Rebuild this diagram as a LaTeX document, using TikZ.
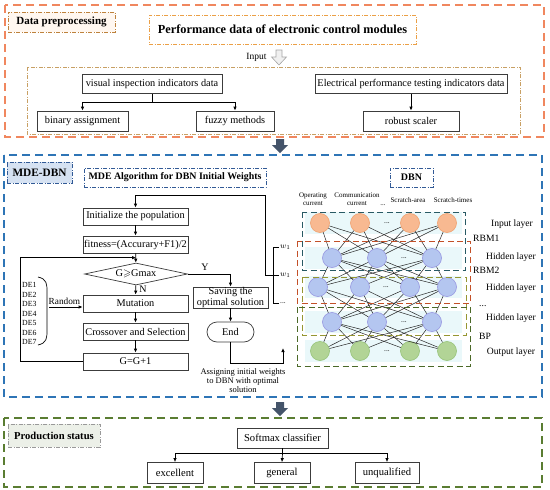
\documentclass[tikz,border=0pt]{standalone}
\usepackage{fontspec}
\usepackage{amssymb}
\setmainfont{Liberation Serif}
\usetikzlibrary{shapes.geometric,arrows.meta}

\definecolor{prepOrange}{RGB}{240,135,95}
\definecolor{prepTag}{RGB}{190,130,60}
\definecolor{prepTitle}{RGB}{235,160,70}
\definecolor{prepInner}{RGB}{200,160,100}
\definecolor{mdeBlue}{RGB}{46,117,182}
\definecolor{mdeTag}{RGB}{50,90,150}
\definecolor{mdeFill}{RGB}{214,226,242}
\definecolor{prodGreen}{RGB}{90,125,50}
\definecolor{prodFill}{RGB}{236,240,232}
\definecolor{boxGray}{RGB}{60,60,60}
\definecolor{blockArrow}{RGB}{68,84,106}
\definecolor{inFill}{RGB}{248,185,145}
\definecolor{inLine}{RGB}{240,160,110}
\definecolor{hidFill}{RGB}{180,198,240}
\definecolor{hidLine}{RGB}{150,150,225}
\definecolor{outFill}{RGB}{178,212,150}
\definecolor{outLine}{RGB}{150,195,120}
\definecolor{bandFill}{RGB}{234,248,250}
\definecolor{rbmTeal}{RGB}{40,90,100}
\definecolor{rbmRed}{RGB}{195,80,40}
\definecolor{rbmOlive}{RGB}{150,150,50}
\definecolor{rbmGreen}{RGB}{75,105,40}

\begin{document}
\begin{tikzpicture}
    [x=1pt,y=-1pt,
    box/.style={draw=boxGray,line width=0.7pt,fill=white,inner sep=0.5pt,
        font=\fontsize{10.3}{10.5}\selectfont,align=center},
    flow/.style={box,minimum width=105pt,minimum height=17pt},
    tag/.style={line width=0.8pt,dash pattern=on 4pt off 1.5pt on 1pt off 1.5pt,
        inner sep=1pt,font=\fontsize{11}{12}\selectfont\bfseries},
    frame/.style={line width=1.2pt,dash pattern=on 8pt off 5pt},
    rbm/.style={line width=1pt,dash pattern=on 6pt off 3.5pt},
    arr/.style={-{Latex[length=4pt,width=3.5pt]},line width=0.8pt,draw=black},
    unit/.style={circle,minimum size=19pt,inner sep=0pt,line width=0.6pt},
    inunit/.style={unit,fill=inFill,draw=inLine},
    hidunit/.style={unit,fill=hidFill,draw=hidLine},
    outunit/.style={unit,fill=outFill,draw=outLine},
    link/.style={line width=0.5pt,black!85},
    dots/.style={font=\fontsize{7.5}{8}\selectfont},
    small/.style={font=\fontsize{7}{7.5}\selectfont,align=center,inner sep=0pt},
    side/.style={font=\fontsize{9.6}{10}\selectfont,inner sep=0pt}]

    \useasboundingbox (0,0) rectangle (550,490);

    % data preprocessing
    \draw[frame,prepOrange] (5,5) rectangle (544,137);
    \node[tag,draw=prepTag,fill=orange!6,minimum width=107pt,minimum height=20pt] (prep) at (61.5,22) {Data preprocessing};
    \node[tag,draw=prepTitle,fill=white,minimum width=267pt,minimum height=29pt,font=\fontsize{12.3}{13}\selectfont\bfseries] (perf) at (282.5,29.5) {Performance data of electronic control modules};
    \draw[line width=0.6pt,gray!70,fill=gray!12] (276,50) -- (282,50) -- (282,57) -- (286.5,57) -- (279,65) -- (271.5,57) -- (276,57) -- cycle;
    \node[font=\fontsize{9.5}{10}\selectfont,anchor=east] (inp) at (270,57) {Input};
    \draw[prepInner,line width=0.8pt,dash pattern=on 4pt off 1.5pt on 1pt off 1.5pt] (27,67) rectangle (520,134);
    \node[box,minimum width=140pt,minimum height=19pt] (vis) at (152,84) {visual inspection indicators data};
    \node[box,minimum width=192pt,minimum height=19pt] (elec) at (411,84) {Electrical performance testing indicators data};
    \node[box,minimum width=91pt,minimum height=20pt] (bin) at (82.5,121) {binary assignment};
    \node[box,minimum width=78pt,minimum height=20pt] (fuz) at (235,121) {fuzzy methods};
    \node[box,minimum width=96pt,minimum height=20pt] (rob) at (411,121) {robust scaler};
    \draw[line width=0.8pt] (vis.south) -- ([yshift=-9pt]vis.south);
    \draw[arr] ([yshift=-9pt]vis.south) -| (bin.north);
    \draw[arr] ([yshift=-9pt]vis.south) -| (fuz.north);
    \draw[arr] (elec) -- (rob);

    \draw[fill=blockArrow,draw=none] (276,139) -- (284,139) -- (284,145) -- (288,145) -- (280,153) -- (272,145) -- (276,145) -- cycle;

    % MDE-DBN
    \draw[frame,mdeBlue] (4,155) rectangle (542,397);
    \node[tag,draw=mdeTag,fill=mdeFill,minimum width=65pt,minimum height=21pt,font=\fontsize{11.3}{12}\selectfont\bfseries] (mdedbn) at (39.5,172.5) {MDE-DBN};
    \node[tag,draw=mdeTag,minimum width=182pt,minimum height=19pt,font=\fontsize{9.9}{10}\selectfont\bfseries] (mdealg) at (175,177.5) {MDE Algorithm for DBN Initial Weights};
    \node[tag,draw=mdeTag,minimum width=43pt,minimum height=19pt,font=\fontsize{10}{10}\selectfont\bfseries] (dbn) at (411.5,177.5) {DBN};

    \node[flow] (init) at (135.5,216.5) {Initialize the population};
    \node[flow] (fit) at (135.5,244.5) {fitness=(Accurary+F1)/2};
    \node[draw=boxGray,line width=0.7pt,fill=white,diamond,aspect=4.7,inner sep=0pt,
        minimum width=103pt,minimum height=22pt,font=\fontsize{10.3}{10.5}\selectfont] (dia) at (136,274) {G$\geqslant$Gmax};
    \node[flow] (mut) at (135.5,303.5) {Mutation};
    \node[flow] (cross) at (135.5,331.5) {Crossover and Selection};
    \node[flow] (gplus) at (135.5,361.5) {G=G+1};
    \node[box,minimum width=75pt,minimum height=21pt,font=\fontsize{10.3}{10.5}\selectfont] (save) at (230.5,297.5) {Saving the\\optimal solution};
    \node[box,rounded corners=10pt,minimum width=47pt,minimum height=20pt] (end) at (230.5,332) {End};

    \draw[arr] (init) -- (fit);
    \draw[arr] (fit) -- (dia);
    \draw[arr] (dia) -- (mut) node[pos=0.45,right,font=\fontsize{10}{10}\selectfont] {N};
    \draw[arr] (mut) -- (cross);
    \draw[arr] (cross) -- (gplus);
    \draw[arr] (gplus.west) -- ++(-62,0) |- ([yshift=5pt]dia.north);
    \draw[arr] (dia.east) -| (save.north) node[pos=0.2,above,font=\fontsize{10}{10}\selectfont] {Y};
    \draw[arr] (save) -- (end);

    \node[anchor=west,inner sep=0pt,align=left,font=\fontsize{7.8}{9.5}\selectfont] (delist) at (22,313.5) {DE1\\DE2\\DE3\\DE4\\DE5\\DE6\\DE7};
    \draw[line width=0.7pt] (38,277) .. controls (47,279) and (47,284) .. (47,292) -- (47,330) .. controls (47,338) and (47,343) .. (38,345);
    \coordinate (rnd) at (49,307);
    \node[font=\fontsize{9.3}{10}\selectfont,anchor=south west,inner sep=0.5pt] (rndlbl) at (48,305) {Random};
    \draw[arr] (rnd) -- (rnd -| mut.west);

    \coordinate (asg) at (283,348);
    \draw[arr] (end.south) |- ([yshift=-15pt]asg) -- (asg);
    \node[font=\fontsize{8.5}{9.3}\selectfont,align=center] (asglbl) at (243,380.5) {Assigning initial weights\\to DBN with optimal\\solution};

    \coordinate (wone) at (279,247);
    \coordinate (wtwo) at (279,275);
    \coordinate (wdots) at (279,303);
    \draw[line width=0.8pt] (wone) -- ++(-6,0) |- (wdots);
    \draw[arr] (wtwo) -- ++(-14,0) |- ([yshift=12pt]init.north) -- (init.north);
    \node[font=\fontsize{8}{8}\selectfont,anchor=west,inner sep=1pt] (wonelbl) at (wone) {$w_1$};
    \node[font=\fontsize{8}{8}\selectfont,anchor=west,inner sep=1pt] (wtwolbl) at (wtwo) {$w_1$};
    \node[dots,anchor=west,inner sep=1pt] (wdotslbl) at (wdots) {...};

    % DBN
    \foreach \y in {223,258,287,322,351}
        \fill[bandFill] (305,\y-11) rectangle (462,\y+11);
    \node[small] (hop) at (313,199) {Operating\\current};
    \node[small] (hcom) at (357,199) {Communication\\current};
    \node[small] (hdots) at (383,205) {...};
    \node[small] (harea) at (408,200) {Scratch-area};
    \node[small] (htime) at (453,200) {Scratch-times};

    \foreach \n/\x in {1/320,2/360,3/410,4/447}
        \node[inunit] (in\n) at (\x,223) {};
    \foreach \n/\x in {1/332,2/377,3/432}
        \node[hidunit] (hA\n) at (\x,258) {};
    \foreach \n/\x in {1/318,2/360,3/410,4/447}
        \node[hidunit] (hB\n) at (\x,287) {};
    \foreach \n/\x in {1/332,2/377,3/432}
        \node[hidunit] (hC\n) at (\x,322) {};
    \foreach \n/\x in {1/320,2/360,3/410,4/447}
        \node[outunit] (out\n) at (\x,351) {};
    \foreach \x/\y [count=\k] in {387/223,404/258,386/287,404/322,387/351}
        \node[dots] (dd\k) at (\x,\y) {...};

    \foreach \a in {1,...,4}
        \foreach \b in {1,...,3} {
            \draw[link] (in\a) -- (hA\b);
            \draw[link] (hB\a) -- (hA\b);
            \draw[link] (hB\a) -- (hC\b);
            \draw[link] (out\a) -- (hC\b);
        }

    \draw[rbm,rbmTeal] (302,212) rectangle (465,270);
    \draw[rbm,rbmRed] (297,241) rectangle (470,303);
    \draw[rbm,rbmOlive] (302,277) rectangle (466,335);
    \draw[rbm,rbmGreen] (297,307) rectangle (470,366);

    \node[side] (linput) at (512,224) {Input layer};
    \node[side,anchor=west] (lrbma) at (473,238) {RBM1};
    \node[side] (lhida) at (511,257) {Hidden layer};
    \node[side,anchor=west] (lrbmb) at (473,270) {RBM2};
    \node[side] (lhidb) at (511,288) {Hidden layer};
    \node[side,anchor=west] (ldots) at (479,306) {...};
    \node[side] (lhidc) at (511,318) {Hidden layer};
    \node[side,anchor=west] (lbp) at (479,336) {BP};
    \node[side] (loutput) at (511,352) {Output layer};

    \draw[fill=blockArrow,draw=none] (276,402) -- (284,402) -- (284,408) -- (288,408) -- (280,416) -- (272,408) -- (276,408) -- cycle;

    % production status
    \draw[frame,prodGreen] (4,418) rectangle (542,487);
    \node[tag,draw=gray!80,fill=prodFill,minimum width=92pt,minimum height=23pt,font=\fontsize{10.6}{11}\selectfont\bfseries] (prod) at (54,435.5) {Production status};
    \node[box,minimum width=91pt,minimum height=20pt,font=\fontsize{10.6}{11}\selectfont] (soft) at (282.5,438) {Softmax classifier};
    \node[box,minimum width=56pt,minimum height=21pt,font=\fontsize{10.6}{11}\selectfont] (exc) at (175,473) {excellent};
    \node[box,minimum width=56pt,minimum height=21pt,font=\fontsize{10.6}{11}\selectfont] (gen) at (282,473) {general};
    \node[box,minimum width=64pt,minimum height=21pt,font=\fontsize{10.6}{11}\selectfont] (unq) at (387,473) {unqualified};
    \draw[line width=0.7pt] (soft.south) -- ([yshift=-5pt]soft.south);
    \draw[arr,line width=0.7pt] ([yshift=-5pt]soft.south) -| (exc.north);
    \draw[arr,line width=0.7pt] ([yshift=-5pt]soft.south) -| (unq.north);
    \draw[arr,line width=0.7pt] ([yshift=-5pt]soft.south) -- (gen.north);

\end{tikzpicture}
\end{document}
